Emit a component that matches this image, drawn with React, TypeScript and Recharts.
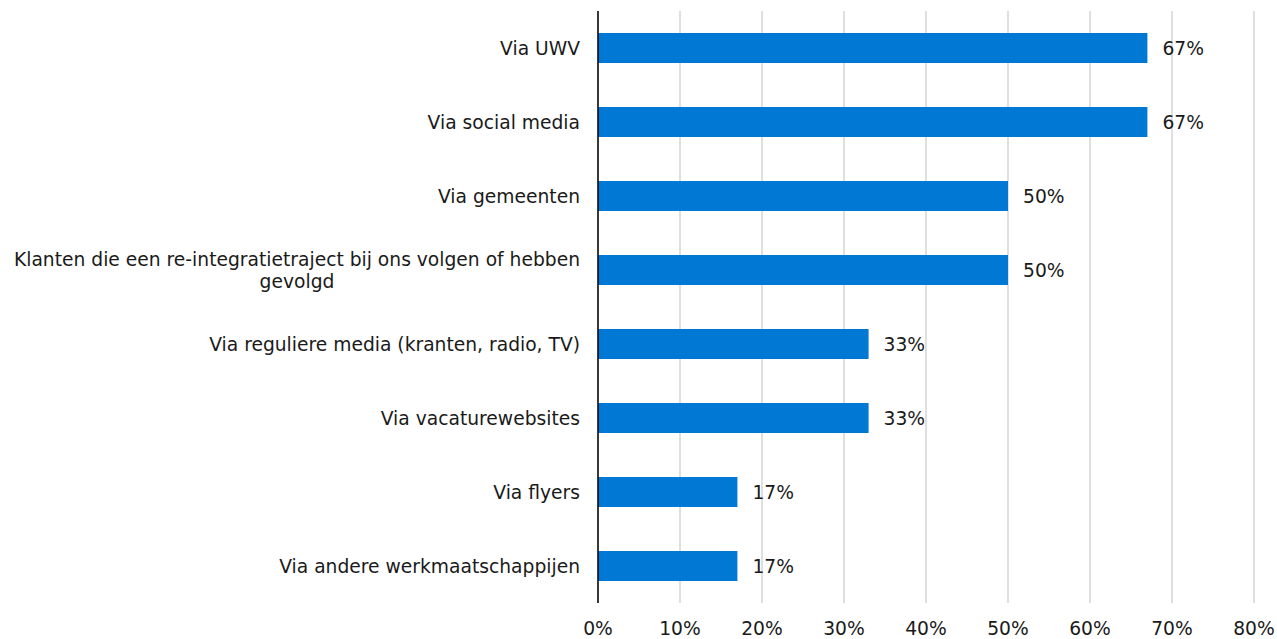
import React from 'react';
import { BarChart, Bar, XAxis, YAxis, CartesianGrid, LabelList } from 'recharts';

const categories = [
  'Via UWV',
  'Via social media',
  'Via gemeenten',
  'Klanten die een re-integratietraject bij ons volgen of hebben gevolgd',
  'Via reguliere media (kranten, radio, TV)',
  'Via vacaturewebsites',
  'Via flyers',
  'Via andere werkmaatschappijen',
];
const values = [67, 67, 50, 50, 33, 33, 17, 17];
const xTicks = [0, 10, 20, 30, 40, 50, 60, 70, 80];

const data = categories.map((name, i) => ({ name, value: values[i] }));

const FONT = 'DejaVu Sans, Verdana, sans-serif';
const FS = 18.7;
const MAXW = 590;

function measure(text: string): number {
  try {
    const c = document.createElement('canvas').getContext('2d');
    if (c) {
      c.font = `${FS}px ${FONT}`;
      return c.measureText(text).width;
    }
  } catch (e) {}
  return text.length * FS * 0.6;
}

function wrap(text: string): string[] {
  if (measure(text) <= MAXW) return [text];
  const words = text.split(' ');
  const lines: string[] = [];
  let cur = '';
  for (const w of words) {
    const t = cur ? cur + ' ' + w : w;
    if (measure(t) > MAXW && cur) {
      lines.push(cur);
      cur = w;
    } else cur = t;
  }
  if (cur) lines.push(cur);
  return lines;
}

const CatTick = (props: any) => {
  const { x, y, payload } = props;
  const lines = wrap(payload.value);
  const right = x - 10;
  if (lines.length === 1) {
    return (
      <text x={right} y={y} textAnchor="end" dominantBaseline="central" fontSize={FS} fontFamily={FONT} fill="#1a1a1a">
        {lines[0]}
      </text>
    );
  }
  const w = Math.max(...lines.map(measure));
  const cx = right - w / 2;
  const lh = 22;
  const start = y - ((lines.length - 1) * lh) / 2;
  return (
    <g>
      {lines.map((l, i) => (
        <text key={i} x={cx} y={start + i * lh} textAnchor="middle" dominantBaseline="central" fontSize={FS} fontFamily={FONT} fill="#1a1a1a">
          {l}
        </text>
      ))}
    </g>
  );
};

export default function App() {
  return (
    <div style={{ position: 'absolute', left: 0, top: 0, background: '#fff' }}>
      <BarChart
        width={1277}
        height={639}
        data={data}
        layout="vertical"
        margin={{ top: 11, right: 23, bottom: 0, left: 0 }}
        barCategoryGap={0}
      >
        <CartesianGrid horizontal={false} vertical={true} stroke="#d4d4d4" strokeWidth={1.5} />
        <XAxis
          type="number"
          domain={[0, 80]}
          ticks={xTicks}
          interval={0}
          height={36}
          axisLine={false}
          tickLine={false}
          tickFormatter={(v: number) => `${v}%`}
          tick={{ fontSize: FS, fontFamily: FONT, fill: '#1a1a1a' }}
          tickMargin={13}
        />
        <YAxis
          type="category"
          dataKey="name"
          width={598}
          axisLine={{ stroke: '#000', strokeWidth: 1.5 }}
          tickLine={false}
          tick={<CatTick />}
          interval={0}
        />
        <Bar dataKey="value" fill="#0078d4" barSize={30} isAnimationActive={false}>
          <LabelList
            dataKey="value"
            position="right"
            offset={15}
            formatter={(v: any) => `${v}%`}
            style={{ fontSize: FS, fontFamily: FONT, fill: '#1a1a1a' }}
          />
        </Bar>
      </BarChart>
    </div>
  );
}
